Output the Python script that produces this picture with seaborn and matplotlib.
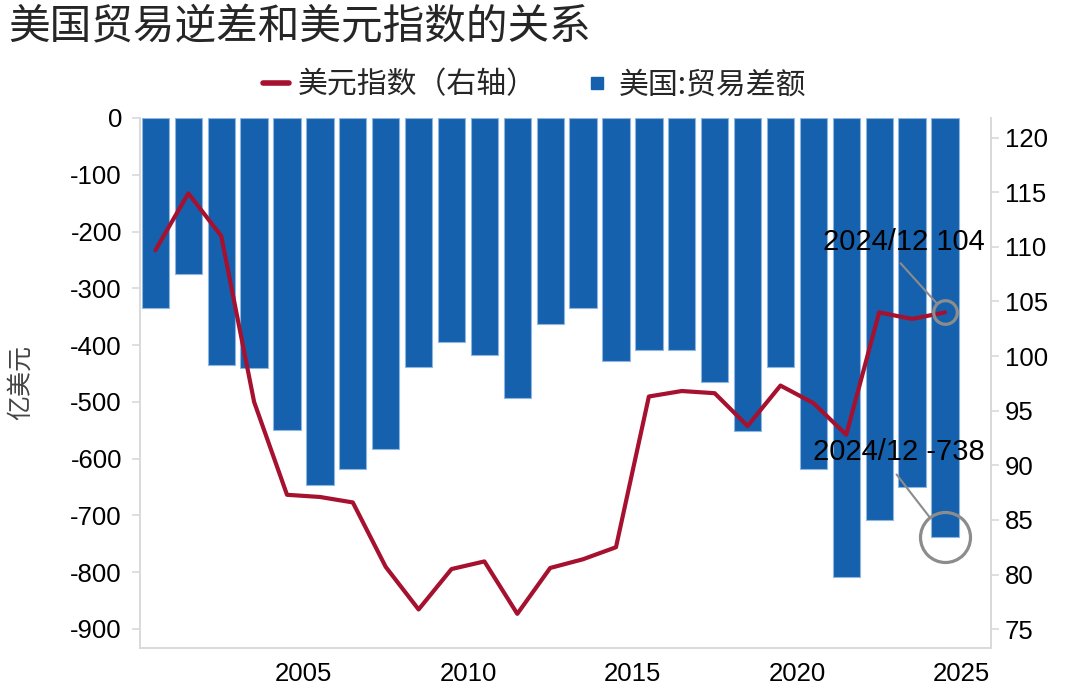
import numpy as np
import pandas as pd
import matplotlib
matplotlib.use('Agg')
import matplotlib.pyplot as plt
import seaborn as sns
from matplotlib.lines import Line2D

# data
years = list(range(2000, 2025))
trade_balance = [-334, -274, -435, -440, -549, -646, -618, -583, -439, -394,
                 -417, -494, -363, -335, -428, -408, -408, -465, -552, -438,
                 -619, -808, -708, -650, -738]
dollar_index = [109.7, 114.9, 111.0, 95.8, 87.3, 87.1, 86.6, 80.7, 76.8, 80.5,
                81.2, 76.4, 80.6, 81.4, 82.5, 96.3, 96.8, 96.6, 93.6, 97.3,
                95.7, 92.8, 104.0, 103.4, 104.0]
left_ticks = [0, -100, -200, -300, -400, -500, -600, -700, -800, -900]
right_ticks = [75, 80, 85, 90, 95, 100, 105, 110, 115, 120]
x_ticks = [2005, 2010, 2015, 2020, 2025]

BAR_COLOR = '#1561AD'
LINE_COLOR = '#A6112F'
AXIS_GRAY = '#D9D9D9'
NOTE_GRAY = '#8C8C8C'

df = pd.DataFrame({'year': years, 'balance': trade_balance, 'dxy': dollar_index})
df['pos'] = df['year'] + 0.5  # bars sit between the year ticks

sns.set_style('white')
plt.rcParams['font.family'] = ['Liberation Sans', 'Noto Sans CJK SC']
plt.rcParams['axes.unicode_minus'] = False

fig = plt.figure(figsize=(10.8, 6.96), dpi=100)
ax = fig.add_axes([0.1296, 0.0694, 0.788, 0.7611])

sns.barplot(data=df, x='pos', y='balance', native_scale=True, width=0.83,
            color=BAR_COLOR, edgecolor='#8DB6E0', linewidth=0.8,
            saturation=1, ax=ax)

ax2 = ax.twinx()
sns.lineplot(data=df, x='pos', y='dxy', color=LINE_COLOR, linewidth=3, ax=ax2)

# axes limits and ticks
ax.set_xlim(2000.03, 2025.9)
ax.set_ylim(-933, 0)
ax2.set_ylim(73.3, 121.8)
ax.set_xticks(x_ticks)
ax.set_xticklabels([str(t) for t in x_ticks])
ax.set_yticks(left_ticks)
ax.set_yticklabels([str(t) for t in left_ticks])
ax2.set_yticks(right_ticks)
ax2.set_yticklabels([str(t) for t in right_ticks])
ax.set_xlabel('')
ax.set_ylabel('')
ax2.set_ylabel('')

for a in (ax, ax2):
    for side in ('left', 'right', 'bottom'):
        a.spines[side].set_color(AXIS_GRAY)
        a.spines[side].set_linewidth(1.2)
    a.spines['top'].set_visible(False)
    a.tick_params(colors=AXIS_GRAY, labelcolor='black', labelsize=18.5,
                  length=6, width=1.2)
ax.tick_params(axis='y', pad=7)
ax.tick_params(axis='x', pad=4)
ax2.tick_params(axis='y', pad=4)

# annotations for the last point
ax2.plot([2024.5], [104.0], marker='o', markersize=17, markerfacecolor='none',
         markeredgecolor=NOTE_GRAY, markeredgewidth=2.3, zorder=5)
ax2.annotate('', xy=(2024.5, 104.0), xytext=(2023.15, 108.5),
             arrowprops=dict(arrowstyle='-', color=NOTE_GRAY, lw=1.5,
                             shrinkA=0, shrinkB=9))
ax2.text(2025.72, 110.4, '2024/12 104', ha='right', va='center',
         fontsize=21, color='black')

ax.plot([2024.5], [-738], marker='o', markersize=36, markerfacecolor='none',
        markeredgecolor=NOTE_GRAY, markeredgewidth=2.3, zorder=5)
ax.annotate('', xy=(2024.5, -738), xytext=(2023.03, -628),
            arrowprops=dict(arrowstyle='-', color=NOTE_GRAY, lw=1.5,
                            shrinkA=0, shrinkB=18))
ax.text(2025.72, -588, '2024/12 -738', ha='right', va='center',
        fontsize=21, color='black')

# title, unit label, legend
fig.text(0.008, 0.96, '美国贸易逆差和美元指数的关系', fontsize=30,
         family='Noto Sans CJK SC', ha='left', va='center')
fig.text(0.019, 0.45, '亿美元', fontsize=18, family='Noto Sans CJK SC',
         rotation=90, ha='center', va='center', color='#444444')

handles = [Line2D([0], [0], color=LINE_COLOR, lw=4),
           Line2D([0], [0], color=BAR_COLOR, marker='s', markersize=8,
                  linestyle='none')]
labels = ['美元指数（右轴）', '美国:贸易差额']
fig.legend(handles, labels, loc='center', bbox_to_anchor=(0.495, 0.878), ncol=2,
           frameon=False, handlelength=0.85, handletextpad=0.3,
           columnspacing=1.6,
           prop={'family': 'Noto Sans CJK SC', 'size': 21.5})

fig.savefig('out.png', dpi=100)
plt.close(fig)
